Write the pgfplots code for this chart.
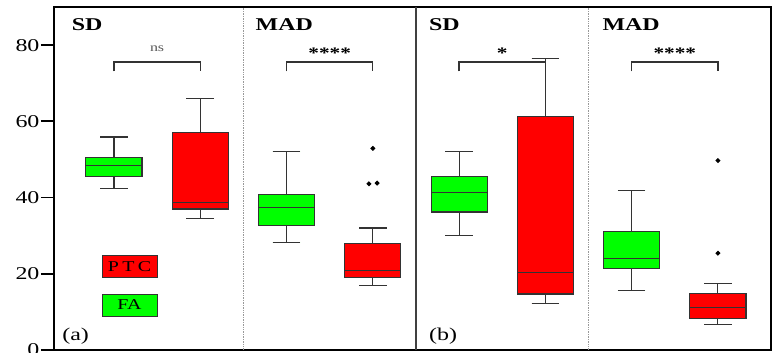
\documentclass[border=0pt]{standalone}
\usepackage{fontspec}
\setmainfont{Liberation Serif}
\usepackage{graphicx}
\usepackage{pgfplots}
\pgfplotsset{compat=1.18}
\usepgfplotslibrary{statistics}
\definecolor{fagreen}{RGB}{0,255,0}
\definecolor{ptcred}{RGB}{255,0,0}
\newcommand{\wide}[1]{\scalebox{1.33}[1]{#1}}
\begin{document}
\begin{tikzpicture}
\begin{axis}[
  scale only axis, width=717pt, height=343pt,
  xmin=0.305, xmax=8.615, ymin=0, ymax=90,
  axis line style={line width=1.8pt, black},
  xtick=\empty,
  ytick={0,20,40,60,80}, ytick pos=left,
  yticklabels={\wide{0},\wide{20},\wide{40},\wide{60},\wide{80}},
  tick style={line width=1.8pt, black},
  tick align=outside, major tick length=13pt,
  y tick label style={font=\fontsize{18}{20}\selectfont, xshift=2pt},
  clip=false,
  boxplot/draw direction=y,
  every axis plot/.append style={line width=1.1pt},
]
% separators
\draw[black!75, line width=1.1pt] (axis cs:4.5,0) -- (axis cs:4.5,90);
\draw[black!40, densely dotted, line width=0.7pt] (axis cs:2.5,0) -- (axis cs:2.5,90);
\draw[black!40, densely dotted, line width=0.7pt] (axis cs:6.5,0) -- (axis cs:6.5,90);

% panel (a)
\addplot[boxplot prepared={draw position=1, lower whisker=42.3, lower quartile=45.5, median=48.5, upper quartile=50.5, upper whisker=55.9, box extend=0.65, whisker extend=0.32}, fill=fagreen, draw=black!80] coordinates {};
\addplot[boxplot prepared={draw position=2, lower whisker=34.5, lower quartile=37.0, median=38.8, upper quartile=57.0, upper whisker=65.9, box extend=0.65, whisker extend=0.32}, fill=ptcred, draw=black!80] coordinates {};
\addplot[boxplot prepared={draw position=3, lower whisker=28.3, lower quartile=32.6, median=37.3, upper quartile=40.7, upper whisker=52.0, box extend=0.65, whisker extend=0.32}, fill=fagreen, draw=black!80] coordinates {};
\addplot[boxplot prepared={draw position=4, lower whisker=16.9, lower quartile=19.0, median=20.9, upper quartile=27.9, upper whisker=32.0, box extend=0.65, whisker extend=0.32}, fill=ptcred, draw=black!80] coordinates {};
% panel (b)
\addplot[boxplot prepared={draw position=5, lower whisker=30.0, lower quartile=36.2, median=41.3, upper quartile=45.5, upper whisker=52.0, box extend=0.65, whisker extend=0.32}, fill=fagreen, draw=black!80] coordinates {};
\addplot[boxplot prepared={draw position=6, lower whisker=12.2, lower quartile=14.7, median=20.3, upper quartile=61.2, upper whisker=76.4, box extend=0.65, whisker extend=0.32}, fill=ptcred, draw=black!80] coordinates {};
\addplot[boxplot prepared={draw position=7, lower whisker=15.5, lower quartile=21.4, median=24.0, upper quartile=31.2, upper whisker=41.9, box extend=0.65, whisker extend=0.32}, fill=fagreen, draw=black!80] coordinates {};
\addplot[boxplot prepared={draw position=8, lower whisker=6.7, lower quartile=8.2, median=11.1, upper quartile=14.9, upper whisker=17.4, box extend=0.65, whisker extend=0.32}, fill=ptcred, draw=black!80] coordinates {};

% outliers
\addplot[only marks, mark=*, mark size=1.8pt, black] coordinates {(4,52.9) (3.955,43.6) (4.05,43.8) (8,49.7) (8,25.4)};

% brackets
\draw[black!80, line width=1.3pt] (axis cs:1,73.1) -- (axis cs:1,75.6) -- (axis cs:2,75.6) -- (axis cs:2,73.1);
\draw[black!80, line width=1.3pt] (axis cs:3,73.1) -- (axis cs:3,75.6) -- (axis cs:4,75.6) -- (axis cs:4,73.1);
\draw[black!80, line width=1.3pt] (axis cs:5,73.1) -- (axis cs:5,75.6) -- (axis cs:6,75.6) -- (axis cs:6,73.1);
\draw[black!80, line width=1.3pt] (axis cs:7,73.1) -- (axis cs:7,75.6) -- (axis cs:8,75.6) -- (axis cs:8,73.1);
\node[font=\fontsize{12}{13}\selectfont, text=black!65] at (axis cs:1.5,79.0) {\wide{ns}};
\node[font=\fontsize{16}{17}\selectfont\bfseries] at (axis cs:3.5,78.0) {\wide{****}};
\node[font=\fontsize{16}{17}\selectfont\bfseries] at (axis cs:5.5,78.0) {\wide{*}};
\node[font=\fontsize{16}{17}\selectfont\bfseries] at (axis cs:7.5,78.0) {\wide{****}};

% panel titles
\node[anchor=west, font=\fontsize{18}{20}\selectfont\bfseries, inner sep=0pt] at (axis cs:0.51,85.4) {\wide{SD}};
\node[anchor=west, font=\fontsize{18}{20}\selectfont\bfseries, inner sep=0pt] at (axis cs:2.64,85.4) {\wide{MAD}};
\node[anchor=west, font=\fontsize{18}{20}\selectfont\bfseries, inner sep=0pt] at (axis cs:4.65,85.4) {\wide{SD}};
\node[anchor=west, font=\fontsize{18}{20}\selectfont\bfseries, inner sep=0pt] at (axis cs:6.66,85.4) {\wide{MAD}};
\node[anchor=west, font=\fontsize{18}{20}\selectfont, inner sep=0pt] at (axis cs:0.40,3.6) {\wide{(a)}};
\node[anchor=west, font=\fontsize{18}{20}\selectfont, inner sep=0pt] at (axis cs:4.65,3.6) {\wide{(b)}};

% legend boxes
\node[draw=black!80, line width=0.9pt, fill=ptcred, minimum width=55pt, minimum height=22pt, inner sep=0pt, font=\fontsize{15}{16}\selectfont] at (axis cs:1.18,22.0) {\wide{P\,T\,C}};
\node[draw=black!80, line width=0.9pt, fill=fagreen, minimum width=55pt, minimum height=22pt, inner sep=0pt, font=\fontsize{15}{16}\selectfont] at (axis cs:1.18,11.8) {\wide{FA}};
\end{axis}
\pgfresetboundingbox
\useasboundingbox ([xshift=-54pt,yshift=-3pt]current axis.south west) rectangle ([xshift=2pt,yshift=7pt]current axis.north east);
\end{tikzpicture}
\end{document}
